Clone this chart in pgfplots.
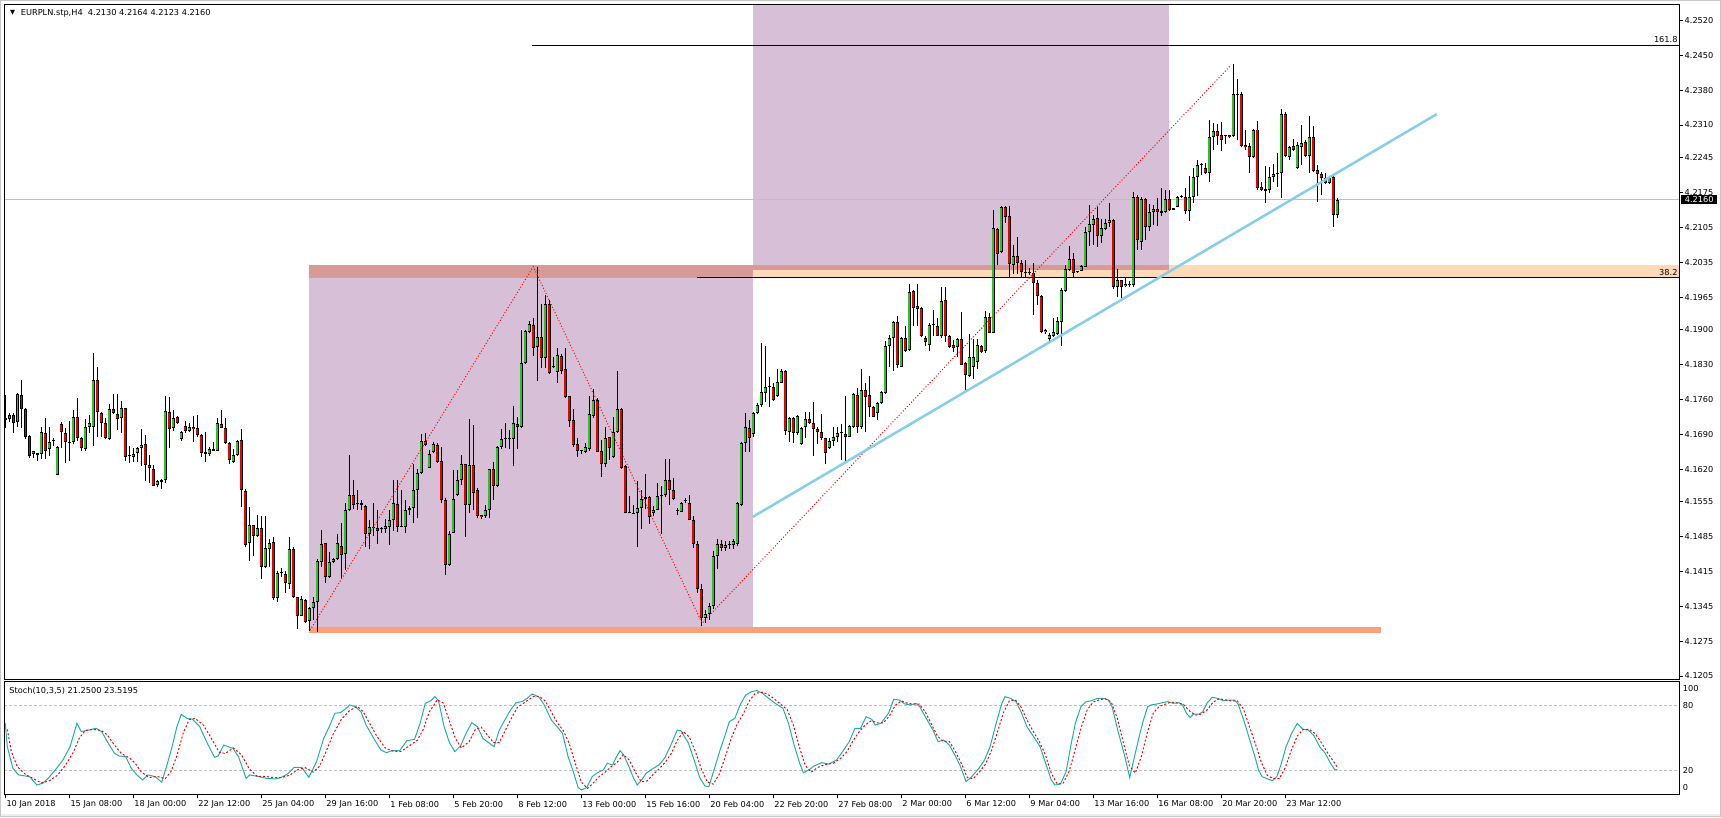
\documentclass[border=0pt]{standalone}
\usepackage{pgfplots}
\usepackage{pgfplotstable}
\usepackage{fontspec}
\pgfplotsset{compat=1.18}
\newfontfamily\mtfont{DejaVu Sans}
\newcommand\tf{\mtfont\fontsize{8.2pt}{9.5pt}\selectfont}
\definecolor{thistle}{RGB}{216,191,216}
\definecolor{rosy}{RGB}{216,154,152}
\definecolor{peach}{RGB}{255,218,185}
\definecolor{salmon}{RGB}{252,160,122}
\definecolor{bull}{RGB}{46,190,46}
\definecolor{bear}{RGB}{230,0,0}
\definecolor{sky}{RGB}{135,206,235}
\definecolor{stochmain}{RGB}{32,178,170}
\definecolor{lvl}{RGB}{192,192,192}

% H4 candles, k = bar index, o h l c
\pgfplotstableread{
k o h l c
1 4.1722 4.1769 4.1702 4.1718
2 4.1720 4.1732 4.1715 4.1728
3 4.1728 4.1732 4.1692 4.1713
4 4.1715 4.1773 4.1705 4.1771
5 4.1769 4.1799 4.1702 4.1740
6 4.1740 4.1742 4.1680 4.1685
7 4.1686 4.1688 4.1643 4.1646
8 4.1650 4.1657 4.1643 4.1656
9 4.1652 4.1653 4.1637 4.1649
10 4.1650 4.1704 4.1640 4.1694
11 4.1692 4.1722 4.1640 4.1657
12 4.1660 4.1704 4.1646 4.1674
13 4.1676 4.1682 4.1666 4.1677
14 4.1609 4.1666 4.1608 4.1664
15 4.1710 4.1715 4.1662 4.1694
16 4.1692 4.1703 4.1633 4.1675
17 4.1674 4.1717 4.1637 4.1673
18 4.1674 4.1739 4.1670 4.1724
19 4.1724 4.1762 4.1676 4.1683
20 4.1682 4.1685 4.1657 4.1662
21 4.1660 4.1720 4.1657 4.1704
22 4.1705 4.1728 4.1692 4.1712
23 4.1704 4.1852 4.1667 4.1799
24 4.1799 4.1824 4.1685 4.1734
25 4.1732 4.1735 4.1685 4.1712
26 4.1712 4.1722 4.1680 4.1682
27 4.1680 4.1750 4.1678 4.1741
28 4.1741 4.1770 4.1730 4.1732
29 4.1730 4.1770 4.1698 4.1720
30 4.1722 4.1756 4.1693 4.1742
31 4.1742 4.1742 4.1637 4.1645
32 4.1646 4.1666 4.1633 4.1646
33 4.1644 4.1662 4.1635 4.1650
34 4.1652 4.1665 4.1635 4.1662
35 4.1662 4.1700 4.1626 4.1668
36 4.1670 4.1688 4.1597 4.1628
37 4.1628 4.1648 4.1593 4.1622
38 4.1620 4.1628 4.1587 4.1587
39 4.1588 4.1599 4.1585 4.1596
40 4.1595 4.1601 4.1581 4.1599
41 4.1599 4.1766 4.1593 4.1736
42 4.1735 4.1765 4.1662 4.1700
43 4.1702 4.1739 4.1697 4.1722
44 4.1724 4.1726 4.1710 4.1713
45 4.1680 4.1697 4.1676 4.1695
46 4.1707 4.1717 4.1693 4.1697
47 4.1697 4.1712 4.1694 4.1704
48 4.1705 4.1726 4.1675 4.1700
49 4.1702 4.1728 4.1685 4.1688
50 4.1688 4.1690 4.1645 4.1652
51 4.1654 4.1694 4.1635 4.1650
52 4.1650 4.1664 4.1646 4.1660
53 4.1657 4.1674 4.1657 4.1660
54 4.1657 4.1723 4.1657 4.1712
55 4.1710 4.1739 4.1702 4.1703
56 4.1702 4.1722 4.1670 4.1672
57 4.1672 4.1675 4.1630 4.1638
58 4.1635 4.1660 4.1633 4.1648
59 4.1648 4.1678 4.1646 4.1677
60 4.1679 4.1700 4.1543 4.1578
61 4.1577 4.1581 4.1464 4.1468
62 4.1471 4.1543 4.1436 4.1508
63 4.1508 4.1508 4.1446 4.1486
64 4.1486 4.1528 4.1483 4.1501
65 4.1502 4.1526 4.1399 4.1424
66 4.1423 4.1526 4.1421 4.1461
67 4.1459 4.1479 4.1423 4.1471
68 4.1473 4.1483 4.1357 4.1361
69 4.1361 4.1416 4.1354 4.1411
70 4.1411 4.1421 4.1403 4.1411
71 4.1410 4.1416 4.1372 4.1391
72 4.1389 4.1484 4.1379 4.1459
73 4.1459 4.1464 4.1361 4.1364
74 4.1364 4.1364 4.1299 4.1326
75 4.1326 4.1365 4.1325 4.1359
76 4.1357 4.1359 4.1312 4.1313
77 4.1316 4.1344 4.1296 4.1341
78 4.1341 4.1364 4.1317 4.1353
79 4.1353 4.1439 4.1294 4.1436
80 4.1434 4.1498 4.1424 4.1470
81 4.1471 4.1472 4.1392 4.1404
82 4.1404 4.1454 4.1401 4.1433
83 4.1433 4.1441 4.1432 4.1440
84 4.1439 4.1490 4.1438 4.1471
85 4.1466 4.1511 4.1401 4.1448
86 4.1449 4.1551 4.1418 4.1538
87 4.1538 4.1648 4.1535 4.1568
88 4.1568 4.1598 4.1539 4.1548
89 4.1549 4.1579 4.1537 4.1549
90 4.1551 4.1558 4.1538 4.1547
91 4.1546 4.1548 4.1463 4.1490
92 4.1490 4.1518 4.1459 4.1504
93 4.1501 4.1551 4.1486 4.1501
94 4.1501 4.1538 4.1470 4.1496
95 4.1499 4.1504 4.1492 4.1499
96 4.1499 4.1519 4.1492 4.1506
97 4.1503 4.1538 4.1468 4.1518
98 4.1518 4.1598 4.1496 4.1551
99 4.1550 4.1598 4.1494 4.1503
100 4.1504 4.1579 4.1503 4.1504
101 4.1503 4.1557 4.1492 4.1538
102 4.1537 4.1545 4.1528 4.1541
103 4.1541 4.1631 4.1512 4.1579
104 4.1578 4.1621 4.1521 4.1613
105 4.1613 4.1690 4.1610 4.1677
106 4.1676 4.1693 4.1666 4.1669
107 4.1623 4.1658 4.1623 4.1650
108 4.1655 4.1675 4.1652 4.1670
109 4.1668 4.1672 4.1633 4.1635
110 4.1636 4.1665 4.1551 4.1557
111 4.1558 4.1561 4.1407 4.1428
112 4.1428 4.1496 4.1426 4.1490
113 4.1492 4.1619 4.1491 4.1559
114 4.1568 4.1619 4.1565 4.1598
115 4.1598 4.1648 4.1588 4.1631
116 4.1631 4.1631 4.1484 4.1548
117 4.1548 4.1720 4.1531 4.1628
118 4.1629 4.1708 4.1538 4.1573
119 4.1578 4.1583 4.1521 4.1525
120 4.1528 4.1528 4.1519 4.1523
121 4.1525 4.1548 4.1522 4.1538
122 4.1538 4.1621 4.1521 4.1620
123 4.1620 4.1635 4.1557 4.1587
124 4.1586 4.1666 4.1585 4.1664
125 4.1664 4.1700 4.1660 4.1680
126 4.1680 4.1712 4.1662 4.1680
127 4.1680 4.1698 4.1660 4.1682
128 4.1680 4.1746 4.1626 4.1712
129 4.1710 4.1725 4.1660 4.1704
130 4.1704 4.1898 4.1702 4.1832
131 4.1832 4.1899 4.1831 4.1897
132 4.1894 4.1916 4.1892 4.1911
133 4.1908 4.1922 4.1847 4.1862
134 4.1864 4.2026 4.1797 4.1884
135 4.1884 4.1952 4.1822 4.1842
136 4.1842 4.1969 4.1822 4.1951
137 4.1952 4.1959 4.1811 4.1813
138 4.1827 4.1845 4.1822 4.1824
139 4.1815 4.1862 4.1793 4.1849
140 4.1847 4.1851 4.1811 4.1817
141 4.1821 4.1862 4.1762 4.1764
142 4.1766 4.1766 4.1704 4.1717
143 4.1718 4.1740 4.1665 4.1668
144 4.1670 4.1682 4.1645 4.1657
145 4.1656 4.1659 4.1650 4.1656
146 4.1655 4.1673 4.1653 4.1664
147 4.1660 4.1766 4.1657 4.1730
148 4.1726 4.1780 4.1722 4.1758
149 4.1758 4.1762 4.1655 4.1655
150 4.1656 4.1678 4.1605 4.1631
151 4.1631 4.1705 4.1625 4.1682
152 4.1684 4.1685 4.1639 4.1662
153 4.1645 4.1725 4.1643 4.1695
154 4.1695 4.1817 4.1693 4.1740
155 4.1740 4.1742 4.1621 4.1623
156 4.1626 4.1628 4.1531 4.1531
157 4.1531 4.1566 4.1531 4.1531
158 4.1531 4.1548 4.1530 4.1530
159 4.1531 4.1596 4.1464 4.1541
160 4.1541 4.1579 4.1499 4.1560
161 4.1559 4.1610 4.1539 4.1563
162 4.1563 4.1565 4.1510 4.1523
163 4.1532 4.1545 4.1525 4.1538
164 4.1538 4.1593 4.1538 4.1565
165 4.1566 4.1586 4.1490 4.1569
166 4.1568 4.1641 4.1563 4.1598
167 4.1598 4.1641 4.1548 4.1579
168 4.1578 4.1603 4.1557 4.1559
169 4.1536 4.1541 4.1528 4.1536
170 4.1534 4.1554 4.1534 4.1552
171 4.1556 4.1561 4.1551 4.1555
172 4.1551 4.1568 4.1518 4.1518
173 4.1518 4.1525 4.1462 4.1470
174 4.1470 4.1475 4.1372 4.1380
175 4.1380 4.1390 4.1305 4.1322
176 4.1322 4.1338 4.1312 4.1330
177 4.1330 4.1352 4.1318 4.1345
178 4.1345 4.1455 4.1340 4.1445
179 4.1445 4.1480 4.1420 4.1470
180 4.1470 4.1478 4.1455 4.1462
181 4.1462 4.1475 4.1455 4.1468
182 4.1468 4.1475 4.1460 4.1469
183 4.1468 4.1480 4.1460 4.1475
184 4.1470 4.1553 4.1465 4.1551
185 4.1548 4.1674 4.1545 4.1672
186 4.1672 4.1732 4.1655 4.1704
187 4.1702 4.1718 4.1655 4.1682
188 4.1690 4.1735 4.1685 4.1732
189 4.1733 4.1753 4.1730 4.1748
190 4.1748 4.1873 4.1745 4.1775
191 4.1773 4.1867 4.1755 4.1784
192 4.1784 4.1804 4.1745 4.1786
193 4.1785 4.1793 4.1757 4.1758
194 4.1766 4.1821 4.1765 4.1794
195 4.1793 4.1820 4.1792 4.1817
196 4.1817 4.1819 4.1688 4.1697
197 4.1695 4.1725 4.1675 4.1722
198 4.1722 4.1724 4.1672 4.1692
199 4.1692 4.1728 4.1688 4.1726
200 4.1670 4.1704 4.1668 4.1702
201 4.1704 4.1735 4.1682 4.1720
202 4.1720 4.1735 4.1710 4.1713
203 4.1712 4.1754 4.1646 4.1700
204 4.1700 4.1705 4.1670 4.1695
205 4.1695 4.1730 4.1678 4.1682
206 4.1682 4.1682 4.1631 4.1653
207 4.1662 4.1682 4.1660 4.1677
208 4.1677 4.1705 4.1666 4.1684
209 4.1685 4.1705 4.1675 4.1692
210 4.1692 4.1710 4.1638 4.1692
211 4.1690 4.1766 4.1637 4.1685
212 4.1685 4.1708 4.1684 4.1706
213 4.1705 4.1773 4.1702 4.1770
214 4.1768 4.1782 4.1693 4.1704
215 4.1704 4.1821 4.1700 4.1778
216 4.1778 4.1793 4.1695 4.1765
217 4.1768 4.1807 4.1725 4.1744
218 4.1745 4.1746 4.1724 4.1725
219 4.1733 4.1755 4.1718 4.1753
220 4.1753 4.1777 4.1750 4.1775
221 4.1773 4.1876 4.1770 4.1867
222 4.1867 4.1889 4.1824 4.1882
223 4.1882 4.1916 4.1817 4.1914
224 4.1914 4.1927 4.1822 4.1829
225 4.1825 4.1885 4.1824 4.1882
226 4.1882 4.1906 4.1855 4.1857
227 4.1859 4.1992 4.1857 4.1976
228 4.1977 4.1979 4.1907 4.1944
229 4.1947 4.1992 4.1906 4.1942
230 4.1944 4.1946 4.1884 4.1886
231 4.1882 4.1886 4.1866 4.1874
232 4.1868 4.1912 4.1857 4.1909
233 4.1908 4.1940 4.1886 4.1911
234 4.1906 4.1922 4.1886 4.1887
235 4.1886 4.1985 4.1882 4.1958
236 4.1959 4.1986 4.1875 4.1886
237 4.1887 4.1889 4.1862 4.1864
238 4.1869 4.1879 4.1855 4.1862
239 4.1864 4.1882 4.1845 4.1880
240 4.1880 4.1936 4.1829 4.1829
241 4.1833 4.1835 4.1779 4.1809
242 4.1807 4.1891 4.1805 4.1844
243 4.1825 4.1880 4.1800 4.1845
244 4.1835 4.1880 4.1820 4.1869
245 4.1866 4.1868 4.1852 4.1854
246 4.1856 4.1938 4.1852 4.1924
247 4.1924 4.1934 4.1892 4.1893
248 4.1893 4.2139 4.1892 4.2103
249 4.2101 4.2103 4.2029 4.2051
250 4.2056 4.2148 4.2054 4.2145
251 4.2145 4.2148 4.2114 4.2126
252 4.2127 4.2148 4.2004 4.2031
253 4.2029 4.2069 4.2011 4.2047
254 4.2047 4.2085 4.2011 4.2033
255 4.2033 4.2039 4.2006 4.2016
256 4.2014 4.2039 4.2006 4.2014
257 4.2014 4.2024 4.2009 4.2013
258 4.2013 4.2033 4.1929 4.1993
259 4.1994 4.1999 4.1949 4.1967
260 4.1967 4.1969 4.1892 4.1894
261 4.1894 4.1900 4.1891 4.1899
262 4.1880 4.1892 4.1877 4.1889
263 4.1886 4.1922 4.1884 4.1894
264 4.1891 4.1924 4.1889 4.1916
265 4.1914 4.1984 4.1867 4.1979
266 4.1978 4.2029 4.1976 4.2021
267 4.2019 4.2067 4.2018 4.2041
268 4.2041 4.2053 4.2003 4.2013
269 4.2016 4.2018 4.2014 4.2016
270 4.2018 4.2029 4.2017 4.2027
271 4.2026 4.2105 4.2025 4.2096
272 4.2096 4.2150 4.2067 4.2111
273 4.2109 4.2129 4.2069 4.2121
274 4.2123 4.2146 4.2066 4.2087
275 4.2087 4.2121 4.2073 4.2103
276 4.2101 4.2121 4.2099 4.2114
277 4.2113 4.2154 4.2106 4.2119
278 4.2119 4.2121 4.1982 4.1986
279 4.1985 4.2021 4.1966 4.1999
280 4.1999 4.2000 4.1964 4.1986
281 4.1987 4.2006 4.1986 4.1992
282 4.1992 4.1998 4.1985 4.1990
283 4.1990 4.2175 4.1985 4.2166
284 4.2166 4.2170 4.2059 4.2079
285 4.2076 4.2166 4.2059 4.2161
286 4.2161 4.2163 4.2079 4.2105
287 4.2105 4.2152 4.2098 4.2136
288 4.2136 4.2150 4.2109 4.2141
289 4.2141 4.2163 4.2107 4.2136
290 4.2137 4.2183 4.2127 4.2133
291 4.2136 4.2180 4.2133 4.2161
292 4.2161 4.2180 4.2138 4.2139
293 4.2143 4.2143 4.2139 4.2139
294 4.2146 4.2168 4.2145 4.2165
295 4.2165 4.2170 4.2164 4.2168
296 4.2166 4.2183 4.2131 4.2138
297 4.2138 4.2208 4.2118 4.2165
298 4.2166 4.2223 4.2153 4.2205
299 4.2205 4.2240 4.2168 4.2230
300 4.2230 4.2234 4.2210 4.2230
301 4.2223 4.2233 4.2212 4.2213
302 4.2214 4.2320 4.2196 4.2285
303 4.2285 4.2315 4.2260 4.2297
304 4.2297 4.2313 4.2270 4.2288
305 4.2290 4.2317 4.2257 4.2279
306 4.2288 4.2290 4.2272 4.2288
307 4.2290 4.2290 4.2283 4.2285
308 4.2287 4.2432 4.2285 4.2372
309 4.2370 4.2402 4.2279 4.2373
310 4.2373 4.2377 4.2266 4.2268
311 4.2270 4.2300 4.2260 4.2265
312 4.2268 4.2273 4.2213 4.2245
313 4.2245 4.2303 4.2243 4.2301
314 4.2301 4.2319 4.2180 4.2183
315 4.2186 4.2196 4.2178 4.2180
316 4.2181 4.2228 4.2154 4.2178
317 4.2180 4.2226 4.2174 4.2206
318 4.2205 4.2232 4.2196 4.2212
319 4.2212 4.2254 4.2186 4.2214
320 4.2213 4.2343 4.2163 4.2332
321 4.2332 4.2337 4.2246 4.2248
322 4.2246 4.2268 4.2240 4.2265
323 4.2267 4.2281 4.2258 4.2260
324 4.2223 4.2275 4.2221 4.2270
325 4.2265 4.2310 4.2230 4.2273
326 4.2275 4.2280 4.2246 4.2248
327 4.2248 4.2328 4.2214 4.2285
328 4.2285 4.2308 4.2216 4.2218
329 4.2220 4.2230 4.2156 4.2212
330 4.2212 4.2216 4.2170 4.2203
331 4.2203 4.2213 4.2192 4.2194
332 4.2194 4.2205 4.2192 4.2203
333 4.2206 4.2208 4.2106 4.2130
334 4.2130 4.2164 4.2123 4.2160
}\candles

\pgfplotsset{
  mt/.style={scale only axis, width=1675.4pt, xmin=0.75, xmax=419.6,
    axis line style={line width=1pt}, axis on top,
    tick align=outside, major tick length=3pt,
    tick style={black, line width=1pt},
    ytick pos=right, yticklabel pos=right,
    tick label style={font=\tf, text=black},
    yticklabel style={anchor=west, inner xsep=1.8pt, inner ysep=0pt}},
  wick/.style={draw=none, mark=none, forget plot,
    error bars/.cd, y dir=plus, y explicit, error mark=none,
    error bar style={#1}},
}

\begin{document}
\begin{tikzpicture}
\fill[white] (0,0) rectangle (1721pt,817pt);
\useasboundingbox (0,0) rectangle (1721pt,817pt);
\fill[gray!12] (0,0) rectangle (1721pt,3.5pt);
\draw[gray!45, line width=1pt] (0.5pt,0.5pt) rectangle (1720.5pt,816.5pt);

% ---------- price panel ----------
\begin{axis}[mt, at={(4.3pt,137.7pt)}, anchor=south west, height=675pt,
  ymin=4.11984, ymax=4.25521, xtick=\empty,
  ytick={4.1205,4.1275,4.1345,4.1415,4.1485,4.1555,4.1620,4.1690,4.1760,4.1830,
         4.1900,4.1965,4.2035,4.2105,4.2175,4.2245,4.2310,4.2380,4.2450,4.2520},
  yticklabels={4.1205,4.1275,4.1345,4.1415,4.1485,4.1555,4.1620,4.1690,4.1760,4.1830,
         4.1900,4.1965,4.2035,4.2105,4.2175,4.2245,4.2310,4.2380,4.2450,4.2520},
  extra y ticks={4.2160}, extra y tick labels={4.2160},
  extra y tick style={tick style={draw=none},
    yticklabel style={fill=black, text=white, inner xsep=3.6pt, inner ysep=1.4pt, xshift=-1.7pt}}]

% rectangles and bands
\addplot[draw=none, fill=thistle, forget plot] coordinates {(76.9,4.1292) (187.85,4.1292) (187.85,4.2029) (76.9,4.2029)} --cycle;
\addplot[draw=none, fill=thistle, forget plot] coordinates {(187.85,4.2019) (291.9,4.2019) (291.9,4.2600) (187.85,4.2600)} --cycle;
\addplot[draw=none, fill=peach, forget plot] coordinates {(76.9,4.2003) (419.6,4.2003) (419.6,4.2029) (76.9,4.2029)} --cycle;
\addplot[draw=none, fill=rosy, forget plot] coordinates {(76.9,4.2003) (187.85,4.2003) (187.85,4.2029) (76.9,4.2029)} --cycle;
\addplot[draw=none, fill=rosy, forget plot] coordinates {(187.85,4.2019) (291.9,4.2019) (291.9,4.2029) (187.85,4.2029)} --cycle;
\addplot[draw=none, fill=salmon, forget plot] coordinates {(76.9,4.1292) (344.9,4.1292) (344.9,4.1304) (76.9,4.1304)} --cycle;

% bid line
\addplot[lvl, line width=1pt, forget plot] coordinates {(0.75,4.2160) (419.6,4.2160)};

% candles: wicks, body outline, bull and bear fill
\addplot[wick={black, line width=1pt}]
  table[x=k, y=l, y error expr=\thisrow{h}-\thisrow{l}] {\candles};
\addplot[wick={black, line width=3.4pt}]
  table[x=k, y expr={min(\thisrow{o},\thisrow{c})},
        y error expr={max(abs(\thisrow{o}-\thisrow{c}),0.0002)}] {\candles};
\addplot[wick={bull, line width=1.6pt}]
  table[x=k, y expr={\thisrow{o}+0.0002},
        y error expr={\thisrow{c}>\thisrow{o} ? max(\thisrow{c}-\thisrow{o}-0.0004,0) : 0}] {\candles};
\addplot[wick={bear, line width=1.6pt}]
  table[x=k, y expr={\thisrow{c}+0.0002},
        y error expr={\thisrow{o}>\thisrow{c} ? max(\thisrow{o}-\thisrow{c}-0.0004,0) : 0}] {\candles};

% fibonacci levels
\addplot[black, line width=1pt, forget plot] coordinates {(132.8,4.2470) (419.6,4.2470)};
\addplot[black, line width=1pt, forget plot] coordinates {(173.9,4.2005) (419.6,4.2005)};
\node[anchor=base east, inner sep=0pt, font=\tf] at (axis cs:419.1,4.2475) {161.8};
\node[anchor=base east, inner sep=0pt, font=\tf] at (axis cs:419.1,4.2009) {38.2};

% zigzag and trend line
\addplot[red, line width=1pt, dash pattern=on 1pt off 2pt, forget plot]
  coordinates {(77.2,4.1297) (133,4.2026) (175.2,4.1311) (307.4,4.2430)};
\addplot[sky, line width=2.5pt, forget plot] coordinates {(187.85,4.1524) (358.9,4.2332)};
\end{axis}

% ---------- stochastic panel ----------
\begin{axis}[mt, at={(4.3pt,22.7pt)}, anchor=south west, height=112.6pt,
  ymin=-1.3, ymax=101.55, major tick length=4pt,
  ytick={5.1,20,80,95.5}, yticklabels={0,20,80,100},
  y tick style={draw=none},
  yticklabel style={xshift=-2.8pt},
  xtick={1,17,...,321}, xtick pos=bottom,
  xticklabels={10 Jan 2018,15 Jan 08:00,18 Jan 00:00,22 Jan 12:00,25 Jan 04:00,
    29 Jan 16:00,1 Feb 08:00,5 Feb 20:00,8 Feb 12:00,13 Feb 00:00,15 Feb 16:00,
    20 Feb 04:00,22 Feb 20:00,27 Feb 08:00,2 Mar 00:00,6 Mar 12:00,9 Mar 04:00,
    13 Mar 16:00,16 Mar 08:00,20 Mar 20:00,23 Mar 12:00},
  xticklabel style={anchor=north west, inner sep=0pt, xshift=1pt, yshift=-2.4pt}]
\addplot[lvl, line width=1pt, dash pattern=on 3pt off 2pt, forget plot] coordinates {(0.75,80) (419.6,80)};
\addplot[lvl, line width=1pt, dash pattern=on 3pt off 2pt, forget plot] coordinates {(0.75,20) (419.6,20)};
% %K main line
\addplot[stochmain, line width=1pt] coordinates {
(1.0,63.5) (1.5,42.2) (2.9,22.4) (4.3,16.4) (7.1,14.8) (8.9,7.2) (10.3,8.7) (11.7,13.3)
(13.5,20.9) (15.4,30.0) (17.2,42.2) (18.9,63.5) (20.0,55.9) (21.9,57.4) (23.7,59.0)
(25.1,55.9) (26.5,46.8) (28.3,36.1) (29.5,33.7) (31.1,33.1) (32.5,22.4) (33.9,16.4)
(35.3,11.8) (36.7,16.4) (38.5,14.8) (40.1,9.6) (41.3,24.0) (42.7,42.2) (43.9,60.5)
(45.0,71.7) (46.4,68.1) (47.8,67.2) (49.6,60.5) (51.5,45.3) (53.3,32.5) (54.2,33.7)
(55.6,43.7) (57.9,40.7) (59.3,33.1) (61.2,13.3) (62.1,16.4) (64.4,14.8) (66.3,13.3)
(68.6,12.7) (70.4,14.8) (71.8,17.9) (73.2,23.3) (75.1,23.3) (76.9,14.2) (78.8,28.5)
(80.6,49.8) (82.0,60.5) (83.4,72.7) (84.8,73.3) (86.2,77.2) (87.1,80.3) (88.5,78.7)
(89.9,74.2) (91.2,62.0) (93.1,49.8) (94.9,39.2) (96.3,36.7) (97.7,38.6) (99.6,38.6)
(101.4,47.7) (103.3,48.9) (104.7,63.5) (106.0,81.8) (107.4,84.2) (108.4,87.9)
(109.3,84.2) (110.7,60.5) (112.1,45.3) (113.4,37.7) (114.8,42.8) (116.2,54.4)
(117.6,64.1) (119.0,60.5) (120.4,49.8) (121.8,45.9) (123.2,42.2) (124.5,57.4)
(125.9,66.6) (127.3,75.7) (128.7,82.4) (130.1,83.3) (131.5,86.4) (132.7,90.3)
(134.3,87.9) (135.6,81.2) (137.5,66.6) (139.3,59.0) (140.3,54.4) (141.7,33.1)
(143.0,19.4) (144.2,5.0) (145.0,2.6) (146.4,5.1) (147.7,14.8) (149.1,18.5) (150.5,20.9)
(151.5,27.0) (152.8,25.5) (153.8,33.1) (154.7,38.6) (155.6,34.6) (157.0,23.3)
(157.9,14.8) (159.0,7.2) (160.2,12.4) (161.2,17.9) (162.6,21.5) (164.4,25.5)
(165.8,31.6) (167.2,42.2) (169.0,57.4) (169.9,56.8) (171.8,45.3) (173.2,30.0)
(174.6,14.2) (175.9,6.3) (176.9,5.7) (178.3,22.4) (179.7,39.2) (181.1,54.4) (182.0,65.0)
(183.4,68.1) (184.7,80.3) (186.1,89.4) (187.5,92.4) (188.9,93.4) (190.3,90.9)
(192.2,85.4) (193.5,81.8) (195.4,77.2) (196.8,63.5) (198.2,43.7) (199.6,27.0)
(200.5,18.5) (201.9,20.9) (203.2,24.6) (205.1,27.6) (206.9,26.4) (208.8,30.0)
(210.6,39.2) (212.0,46.8) (213.4,59.0) (214.8,59.0) (216.2,69.6) (217.6,67.2)
(218.5,62.0) (219.9,63.5) (221.8,72.7) (223.1,85.4) (224.5,84.8) (225.9,81.2)
(227.3,80.3) (228.7,81.8) (229.6,78.7) (231.0,69.6) (232.9,57.4) (234.2,46.8)
(235.6,48.3) (237.0,43.7) (238.4,34.6) (239.8,24.0) (241.2,10.3) (242.6,14.8)
(244.4,22.4) (245.8,30.0) (247.2,42.2) (248.6,62.0) (250.0,80.3) (250.9,87.9)
(252.3,86.4) (253.7,83.3) (255.1,72.7) (256.4,60.5) (257.8,52.9) (259.7,42.2)
(261.1,27.0) (262.5,11.8) (263.4,7.2) (264.8,8.1) (266.2,19.4) (267.5,45.3) (268.5,63.5)
(269.9,78.7) (271.2,83.3) (272.6,84.2) (274.0,86.4) (275.4,86.4) (276.8,84.8)
(277.7,78.7) (279.1,57.4) (280.9,33.1) (282.1,13.9) (283.3,33.1) (284.7,55.0)
(285.6,67.2) (286.6,78.7) (287.5,80.3) (288.9,81.2) (290.3,82.4) (291.6,83.3)
(293.0,81.8) (294.4,82.4) (295.3,80.3) (296.3,72.7) (297.2,69.0) (298.1,72.0)
(299.5,72.0) (300.4,74.2) (301.4,81.8) (302.7,87.3) (304.1,86.4) (305.5,84.2)
(306.9,84.8) (308.3,84.8) (309.2,81.2) (310.6,66.6) (312.0,49.8) (313.4,33.1)
(314.3,20.9) (315.2,14.8) (316.6,12.7) (317.8,11.2) (318.9,14.8) (319.9,25.5)
(321.2,42.2) (322.6,54.4) (324.0,63.5) (325.4,58.0) (326.8,57.4) (328.2,52.0)
(329.6,42.2) (331.0,36.1) (332.3,27.0) (333.3,21.5) (334,21.25)};
% %D signal line
\addplot[red, line width=1pt, dash pattern=on 2pt off 2pt] coordinates {
(1.5,58) (2.5,38) (4,24) (6,17) (8.5,12) (10,9) (12,11) (14,16) (16,25) (18,37)
(19.5,50) (21,57) (23,58) (25,57) (26.5,53) (28,45) (30,36) (32,32) (33.5,27) (35,19)
(37,14) (39,15) (41,13) (42.5,20) (44,35) (45.5,55) (47,67) (48.5,68) (50.5,62)
(52.5,50) (54.5,37) (56,36) (58,41) (60,35) (62,22) (64,15) (66,15) (68,14) (70,14)
(72,16) (74,21) (76,23) (78,19) (79.5,24) (81,36) (83,54) (85,67) (87,75) (89,79)
(90.5,74) (92,64) (94,51) (96,41) (98,38) (100,38) (102,43) (104,48) (105.5,58)
(107,74) (109,85) (110.5,82) (112,66) (113.5,50) (115,41) (117,47) (118.5,58) (120,60)
(121.5,53) (123,46) (124.5,46) (126,57) (127.5,68) (129,78) (131,83) (133,88)
(134.5,88) (136,84) (137.5,74) (139,64) (140.5,57) (142,45) (143.5,27) (145,10)
(146.5,4) (148,9) (149.5,15) (151,19) (152.5,24) (154,28) (155.5,35) (157,30)
(158.5,19) (160,10) (161.5,11) (163,17) (164.5,22) (166,28) (167.5,36) (169,48)
(170.5,56) (172,51) (173.5,38) (175,22) (176.5,10) (178,8) (179.5,17) (181,33)
(182.5,50) (184,63) (185.5,72) (187,84) (188.5,91) (190.5,92) (192.5,88) (194.5,82)
(196.5,76) (198,62) (199.5,42) (201,25) (202.5,19) (204,23) (206,26) (208,27) (210,32)
(211.5,38) (213,48) (214.5,56) (216,62) (217.5,66) (219,64) (220.5,64) (222,70)
(223.5,80) (225,84) (226.5,82) (228,81) (229.5,81) (231,74) (232.5,63) (234,52)
(235.5,47) (237,47) (238.5,38) (240,27) (241.5,14) (243,13) (244.5,19) (246,26)
(247.5,38) (249,55) (250.5,73) (252,84) (253.5,85) (255,78) (256.5,66) (258,56)
(259.5,47) (261,35) (262.5,18) (264,8) (265.5,9) (267,20) (268.5,40) (270,60)
(271.5,76) (273,83) (274.5,85) (276,86) (277.5,83) (279,68) (280.5,46) (282,25)
(283.5,18) (285,33) (286.5,55) (288,73) (289.5,79) (291,81) (292.5,83) (294,82)
(295.5,81) (297,75) (298.5,71) (300,72) (301.5,76) (303,83) (304.5,86) (306,85)
(307.5,84) (309,84) (310.5,77) (312,61) (313.5,45) (315,28) (316.5,16) (318,13)
(319.5,13) (321,23) (322.5,39) (324,52) (325.5,58) (327,58) (328.5,54) (330,46)
(331.5,37) (333,29) (334,23.52)};
\end{axis}

% header texts
\node[anchor=center, inner sep=0pt, font=\mtfont\fontsize{6.5pt}{7pt}\selectfont] at (12.7pt,804pt) {▼};
\node[anchor=base west, inner sep=0pt, font=\tf] at (20.7pt,801.3pt) {EURPLN.stp,H4\ \ 4.2130 4.2164 4.2123 4.2160};
\node[anchor=base west, inner sep=0pt, font=\tf] at (9.2pt,123.5pt) {Stoch(10,3,5) 21.2500 23.5195};
\end{tikzpicture}
\end{document}
